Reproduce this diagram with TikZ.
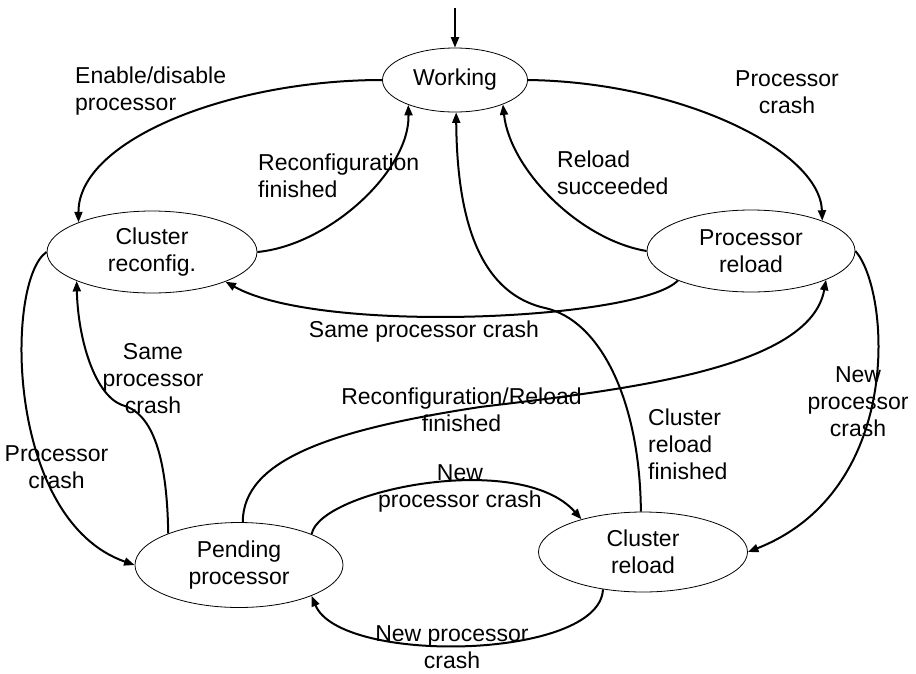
\documentclass[tikz,border=0pt]{standalone}
\usepackage{fontspec}
\setmainfont{Liberation Sans}
\usetikzlibrary{shapes.geometric,arrows.meta}
\begin{document}
\begin{tikzpicture}[x=1pt,y=-1pt,
  every node/.style={font=\fontsize{23}{27}\selectfont},
  state/.style={ellipse, draw, line width=0.8pt, inner sep=0pt, align=center},
  lbl/.style={inner sep=0pt, align=center},
  lbll/.style={inner sep=0pt, align=left, anchor=west},
  edge/.style={line width=2pt, -{Triangle[length=10.5pt,width=8pt]}}]
\useasboundingbox (0,0) rectangle (916,673);

% states
\node[state, minimum width=145pt, minimum height=64pt] (W) at (455,80) {Working};
\node[state, minimum width=210pt, minimum height=82pt] (CR) at (152,252) {Cluster\\reconfig.};
\node[state, minimum width=208pt, minimum height=82pt] (PR) at (751,251) {Processor\\reload};
\node[state, minimum width=208pt, minimum height=85pt] (PP) at (239,565) {Pending\\processor};
\node[state, minimum width=209pt, minimum height=80pt] (CL) at (643,552) {Cluster\\reload};

% initial transition
\coordinate (entry) at (455,8);
\draw[edge] (entry) -- (W.north);

% transitions
\draw[edge] (W.west) .. controls (230,80) and (78,140) .. (CR.158);
\draw[edge] (CR.east) .. controls (330,245) and (410,170) .. (W.208);
\draw[edge] (W.east) .. controls (680,82) and (820,150) .. (PR.23);
\draw[edge] (PR.west) .. controls (580,240) and (510,170) .. (W.333);
\draw[edge] (PR.202) .. controls (640,320) and (320,335) .. (CR.338);
\draw[edge] (CR.west) .. controls (5,280) and (5,520) .. (PP.west);
\draw[edge] (PP.156) .. controls (167,450) and (150,412) .. (122,405)
                     .. controls (95,395) and (78,340) .. (CR.201);
\draw[edge] (PP.85) .. controls (243,460) and (330,430) .. (480,407)
                    .. controls (620,390) and (810,370) .. (PR.339);
\draw[edge] (PP.23) .. controls (320,490) and (520,450) .. (CL.152);
\draw[edge] (CL.223) .. controls (600,660) and (340,665) .. (PP.337);
\draw[edge] (CL.93) .. controls (640,400) and (600,320) .. (545,308)
                    .. controls (475,292) and (457,210) .. (W.272);
\draw[edge] (PR.east) .. controls (890,290) and (905,490) .. (CL.east);

% transition labels
\node[lbll] (l1) at (75,91.5) {Enable/disable\\processor};
\node[lbll] (l2) at (258,175.5) {Reconfiguration\\finished};
\node[lbl] (l3) at (787,92.5) {Processor\\crash};
\node[lbll] (l4) at (557,172.5) {Reload\\succeeded};
\node[lbl] (l5) at (424,332) {Same processor crash};
\node[lbl] (l6) at (56.5,467.5) {Processor\\crash};
\node[lbl] (l7) at (153,379) {Same\\processor\\crash};
\node[lbl] (l8) at (461.5,409.5) {Reconfiguration/Reload\\finished};
\node[lbl] (l9) at (460,488) {New\\processor crash};
\node[lbl] (l10) at (452,647.5) {New processor\\crash};
\node[lbll] (l11) at (648,444) {Cluster\\reload\\finished};
\node[lbl] (l12) at (858,402) {New\\processor\\crash};
\end{tikzpicture}
\end{document}
